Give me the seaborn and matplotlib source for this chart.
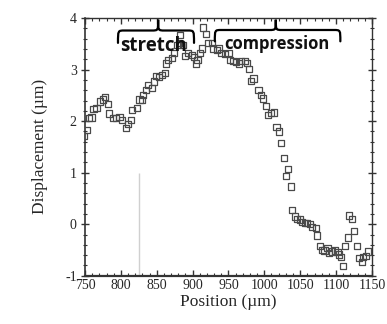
import numpy as np
import pandas as pd
import matplotlib
matplotlib.use("Agg")
import matplotlib.pyplot as plt
from matplotlib.path import Path
from matplotlib.patches import PathPatch
from matplotlib.ticker import MultipleLocator
import seaborn as sns

# ---- data ----
position = [749, 752, 756, 759, 762, 766, 771, 775, 778, 782, 784, 789, 793, 798, 802,
            807, 810, 814, 816, 822, 826, 829, 831, 835, 838, 843, 846, 849, 853, 857,
            861, 863, 866, 871, 874, 879, 881, 883, 887, 889, 894, 899, 902, 905, 907,
            910, 913, 915, 919, 922, 927, 929, 934, 937, 940, 945, 950, 952, 957, 961,
            965, 968, 973, 976, 979, 981, 985, 992, 995, 998, 1002, 1005, 1009, 1013,
            1017, 1020, 1023, 1027, 1030, 1033, 1037, 1039, 1043, 1046, 1050, 1053,
            1057, 1060, 1064, 1067, 1072, 1074, 1078, 1081, 1084, 1088, 1090, 1094,
            1098, 1102, 1104, 1107, 1110, 1113, 1117, 1118, 1122, 1125, 1129, 1132,
            1136, 1138, 1142, 1145]
displacement = [1.71, 1.83, 2.06, 2.07, 2.24, 2.25, 2.38, 2.42, 2.47, 2.33, 2.15, 2.06,
                2.06, 2.08, 2.02, 1.87, 1.94, 2.02, 2.22, 2.25, 2.42, 2.41, 2.51, 2.60,
                2.70, 2.64, 2.77, 2.88, 2.85, 2.90, 2.94, 3.12, 3.19, 3.22, 3.32, 3.48,
                3.51, 3.67, 3.48, 3.26, 3.32, 3.28, 3.25, 3.12, 3.19, 3.32, 3.41, 3.82,
                3.69, 3.51, 3.51, 3.41, 3.38, 3.41, 3.32, 3.30, 3.33, 3.19, 3.17, 3.15,
                3.12, 3.17, 3.17, 3.13, 3.01, 2.78, 2.83, 2.60, 2.51, 2.44, 2.29, 2.12,
                2.16, 2.17, 1.88, 1.80, 1.58, 1.28, 0.94, 1.07, 0.73, 0.28, 0.15, 0.10,
                0.09, 0.04, 0.02, 0.03, 0.00, -0.06, -0.08, -0.22, -0.42, -0.50, -0.51,
                -0.46, -0.56, -0.53, -0.51, -0.54, -0.59, -0.64, -0.81, -0.42, -0.26,
                0.17, 0.10, -0.13, -0.42, -0.66, -0.74, -0.64, -0.61, -0.53]

x_ticks = [750, 800, 850, 900, 950, 1000, 1050, 1100, 1150]
y_ticks = [-1, 0, 1, 2, 3, 4]
marker_line_x = 825
marker_line_y = [-1, 1]
regions = ["stretch", "compression"]

df = pd.DataFrame({"Position": position, "Displacement": displacement})

sns.set_style("ticks")
plt.rcParams["font.family"] = ["Liberation Serif", "DejaVu Serif"]
plt.rcParams["axes.unicode_minus"] = False

fig = plt.figure(figsize=(3.87, 3.24), dpi=100)
ax = fig.add_axes([0.2196, 0.149, 0.7414, 0.795])

ax.vlines(marker_line_x, marker_line_y[0], marker_line_y[1], color="#d0d0d0", lw=1.0, zorder=1)

sns.scatterplot(data=df, x="Position", y="Displacement", ax=ax, marker="s",
                s=20, fc="none", ec="#4a4a4a", linewidth=0.9, zorder=3)

ax.set_xlim(750, 1150)
ax.set_ylim(-1, 4)
ax.set_xticks(x_ticks)
ax.set_yticks(y_ticks)
ax.xaxis.set_minor_locator(MultipleLocator(10))
ax.yaxis.set_minor_locator(MultipleLocator(0.2))
ax.tick_params(axis="both", which="both", top=True, right=True, color="#333333")
ax.tick_params(axis="x", which="major", direction="in", length=4, width=1, labelsize=10, pad=2)
ax.tick_params(axis="x", which="minor", direction="in", length=2.5, width=0.8)
ax.tick_params(axis="y", which="major", direction="inout", length=6, width=1, labelsize=10, pad=3)
ax.tick_params(axis="y", which="minor", direction="inout", length=3.5, width=0.8)
for s in ax.spines.values():
    s.set_visible(True)
    s.set_color("#333333")
    s.set_linewidth(1.0)
ax.spines["bottom"].set_linewidth(1.6)
ax.spines["left"].set_linewidth(1.2)

ax.set_xlabel("Position (µm)", fontsize=12.5, labelpad=2)
ax.set_ylabel("Displacement (µm)", fontsize=12.5, labelpad=12)


def brace(ax, x0, x1, xt, ybase, yarm, ytip, rx):
    verts = [
        (x0, yarm), (x0, ybase), (x0, ybase), (x0 + rx, ybase),
        (xt - rx, ybase),
        (xt, ybase), (xt, ybase), (xt, ytip),
        (xt, ybase), (xt, ybase), (xt + rx, ybase),
        (x1 - rx, ybase),
        (x1, ybase), (x1, ybase), (x1, yarm),
    ]
    codes = [Path.MOVETO, Path.CURVE4, Path.CURVE4, Path.CURVE4,
             Path.LINETO,
             Path.CURVE4, Path.CURVE4, Path.CURVE4,
             Path.CURVE4, Path.CURVE4, Path.CURVE4,
             Path.LINETO,
             Path.CURVE4, Path.CURVE4, Path.CURVE4]
    ax.add_patch(PathPatch(Path(verts, codes), fc="none", ec="black", lw=1.6,
                           zorder=4, clip_on=False, capstyle="round"))


brace(ax, 796, 902, 852, 3.76, 3.52, 3.97, 9)
brace(ax, 931, 1106, 1016, 3.77, 3.55, 3.97, 9)

ax.text(846, 3.45, regions[0], ha="center", va="center", fontsize=13.5,
        fontweight="bold", family=["Open Sans", "DejaVu Sans"], color="#111111", zorder=5)
ax.text(1018, 3.50, regions[1], ha="center", va="center", fontsize=12,
        fontweight="bold", family=["Open Sans", "DejaVu Sans"], color="#111111", zorder=5)

fig.savefig("out.png", dpi=100)
